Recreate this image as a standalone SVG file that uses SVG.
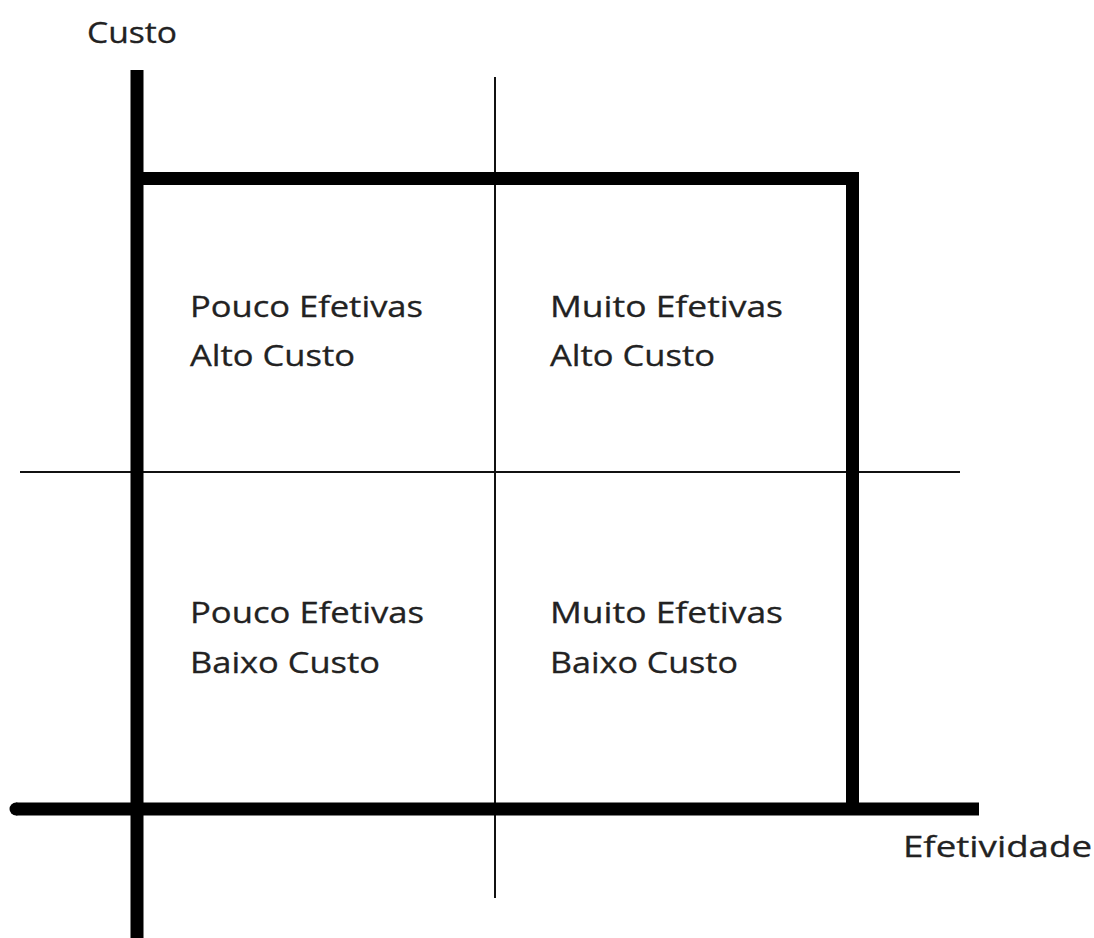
<svg xmlns="http://www.w3.org/2000/svg" width="1094" height="938" viewBox="0 0 1094 938">
<style>
.thick{stroke:#000;stroke-width:13;fill:none;stroke-linecap:butt;stroke-linejoin:miter}
.thin{stroke:#111;stroke-width:2;fill:none}
.lbl{font-family:"Open Sans","Liberation Sans",sans-serif;font-size:29px;fill:#222;stroke:#222;stroke-width:0.3}
</style>
<rect width="1094" height="938" fill="#fff"/>
<g id="connectors">
<line class="thin" x1="495" y1="77" x2="495" y2="898"/>
<line class="thin" x1="20" y1="472" x2="960" y2="472"/>
<line class="thick" x1="137" y1="70" x2="137" y2="938"/>
<path class="thick" d="M137,178.5 H852.5 V809"/>
<line class="thick" x1="16" y1="809" x2="979" y2="809"/>
<circle cx="16" cy="809" r="6.5" fill="#000"/>
</g>
<g id="axis-y-label"><text class="lbl" x="87" y="43" textLength="90" lengthAdjust="spacingAndGlyphs">Custo</text></g>
<g id="axis-x-label"><text class="lbl" x="903" y="857" textLength="189" lengthAdjust="spacingAndGlyphs">Efetividade</text></g>
<g id="q-top-left">
<text class="lbl" x="190" y="317" textLength="233" lengthAdjust="spacingAndGlyphs">Pouco Efetivas</text>
<text class="lbl" x="190" y="366" textLength="165" lengthAdjust="spacingAndGlyphs">Alto Custo</text>
</g>
<g id="q-top-right">
<text class="lbl" x="550" y="317" textLength="233" lengthAdjust="spacingAndGlyphs">Muito Efetivas</text>
<text class="lbl" x="550" y="366" textLength="165" lengthAdjust="spacingAndGlyphs">Alto Custo</text>
</g>
<g id="q-bottom-left">
<text class="lbl" x="190" y="623" textLength="234" lengthAdjust="spacingAndGlyphs">Pouco Efetivas</text>
<text class="lbl" x="190" y="673" textLength="190" lengthAdjust="spacingAndGlyphs">Baixo Custo</text>
</g>
<g id="q-bottom-right">
<text class="lbl" x="550" y="623" textLength="233" lengthAdjust="spacingAndGlyphs">Muito Efetivas</text>
<text class="lbl" x="550" y="673" textLength="188" lengthAdjust="spacingAndGlyphs">Baixo Custo</text>
</g>
</svg>
